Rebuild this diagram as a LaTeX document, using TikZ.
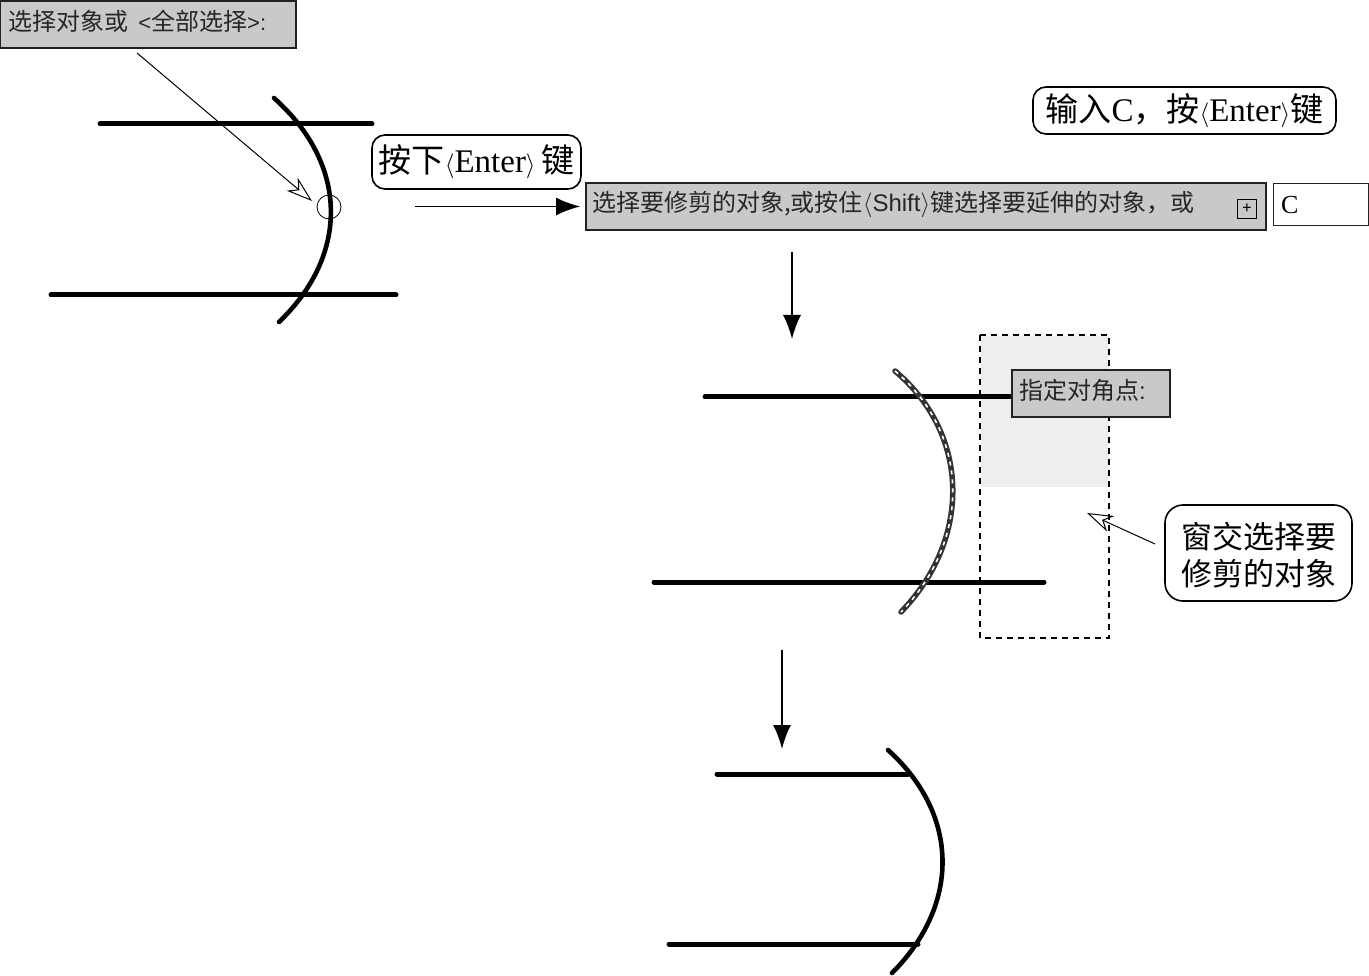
\documentclass[tikz,border=0pt]{standalone}
\usepackage{fontspec}
\setmainfont{Liberation Serif}
\newfontfamily\cjk{Noto Sans CJK SC}
\newfontfamily\uisans{Liberation Sans}
\usetikzlibrary{arrows.meta}
\definecolor{boxgray}{HTML}{C9C9C9}
\definecolor{windowgray}{HTML}{EEEEEE}
\definecolor{edgedark}{HTML}{222222}
\tikzset{
  x=1pt,y=-1pt,
  geom/.style={line width=5pt,line cap=round,black},
  arcline/.style={line width=4.6pt,line cap=round,black},
  prompt/.style={draw=edgedark,line width=2pt,fill=boxgray,anchor=north west,inner sep=0pt,outer sep=0pt},
  prompttext/.style={anchor=west,inner sep=0pt,font=\cjk\fontsize{24}{26}\selectfont,text=black!85},
  callout/.style={draw=black,line width=1.6pt,fill=white,rounded corners=13pt,anchor=north west,inner sep=0pt,outer sep=0pt},
  callouttext/.style={inner sep=0pt,font=\fontsize{33}{37}\selectfont},
  solidarrow/.style={line width=1.6pt,-{Latex[length=24pt,width=18pt]}},
  openarrow/.style={line width=1pt,-{Stealth[open,length=26pt,width=17pt,inset=8pt]}},
}
\begin{document}
\begin{tikzpicture}
\useasboundingbox (0,0) rectangle (1369,976);
% first state
\coordinate (a1) at (100,124); \coordinate (a2) at (372,124);
\coordinate (b1) at (51,295); \coordinate (b2) at (396,295);
\draw[geom] (a1) -- (a2);
\draw[geom] (b1) -- (b2);
\draw[arcline] (274,98) .. controls (349,165) and (349,255) .. (279,322);
\node[draw=black,line width=.8pt,circle,minimum size=24pt,inner sep=0pt] (pick) at (329,207) {};
% prompt 1
\node[prompt,minimum width=296pt,minimum height=47pt] (p1) at (0,1) {};
\node[prompttext] (p1t) at (8,21) {\cjk 选择对象或\,\uisans\fontsize{22}{24}\selectfont\ <\cjk\fontsize{24}{26}\selectfont 全部选择\uisans\fontsize{22}{24}\selectfont >:};
\coordinate (pickfrom) at (137,53);
\coordinate (pickto) at (312,201);
\draw[openarrow] (pickfrom) -- (pickto);
% callouts
\node[callout,minimum width=209pt,minimum height=54pt] (c1) at (372,135) {};
\node[callouttext] (c1t) at (c1.center) {{\cjk 按下}$\langle$Enter$\rangle$\,{\cjk 键}};
\node[callout,minimum width=303pt,minimum height=47pt] (c2) at (1033,87) {};
\node[callouttext] (c2t) at (c2.center) {{\cjk 输入}C{\cjk ，按}$\langle$Enter$\rangle${\cjk 键}};
% prompt 2
\node[prompt,minimum width=680pt,minimum height=47pt] (p2) at (586,183) {};
\node[prompttext] (p2t) at (592,204) {\cjk\fontsize{24}{26}\selectfont 选择要修剪的对象,或按住\uisans$\langle$Shift$\rangle$\cjk 键选择要延伸的对象，或};
\node[draw=black,line width=1.2pt,fill=boxgray,minimum size=19pt,inner sep=0pt] (icon) at (1247,209) {\fontsize{17}{17}\selectfont\bfseries +};
\node[draw=edgedark,line width=1.4pt,fill=white,anchor=north west,minimum width=95pt,minimum height=42pt,inner sep=0pt] (input) at (1273,183) {};
\node[anchor=west,inner sep=0pt,font=\fontsize{26}{28}\selectfont] (inputt) at (1281,205) {C};
\coordinate (r1) at (415,206.5);
\draw[solidarrow,shorten >=6pt] (r1) -- (p2.west);
\coordinate (d1a) at (792,252); \coordinate (d1b) at (792,339);
\draw[solidarrow] (d1a) -- (d1b);
% second state
\fill[windowgray] (981,336) rectangle (1109,487);
\coordinate (e1) at (705,397); \coordinate (e2) at (1014,397);
\coordinate (f1) at (654,582); \coordinate (f2) at (1044,582);
\draw[geom] (e1) -- (e2);
\draw[geom] (f1) -- (f2);
\draw[arcline,line width=5.5pt,black!80] (895,371) .. controls (971,435) and (971,540) .. (901,612);
\draw[line width=1.6pt,white,dash pattern=on 4pt off 5pt] (895,371) .. controls (971,435) and (971,540) .. (901,612);
\draw[line width=1.6pt,black,dash pattern=on 6pt off 5pt] (980,335) rectangle (1109,638);
\node[prompt,minimum width=158pt,minimum height=47pt] (p3) at (1012,370) {};
\node[prompttext] (p3t) at (1019,390) {\cjk 指定对角点\uisans :};
\node[callout,minimum width=187pt,minimum height=96pt,rounded corners=18pt] (c3) at (1165,505) {};
\node[callouttext,align=center,font=\cjk\fontsize{31}{37}\selectfont] (c3t) at (1259,555) {窗交选择要\\修剪的对象};
\coordinate (winfrom) at (1155,544);
\coordinate (winto) at (1087,513);
\draw[openarrow] (winfrom) -- (winto);
\coordinate (d2a) at (782,650); \coordinate (d2b) at (782,749);
\draw[solidarrow] (d2a) -- (d2b);
% result
\coordinate (g1) at (717,774); \coordinate (g2) at (908,774);
\coordinate (h1) at (669,944); \coordinate (h2) at (918,944);
\draw[geom] (g1) -- (g2);
\draw[geom] (h1) -- (h2);
\draw[arcline] (888,750) .. controls (960,815) and (960,905) .. (892,973);
\end{tikzpicture}
\end{document}
